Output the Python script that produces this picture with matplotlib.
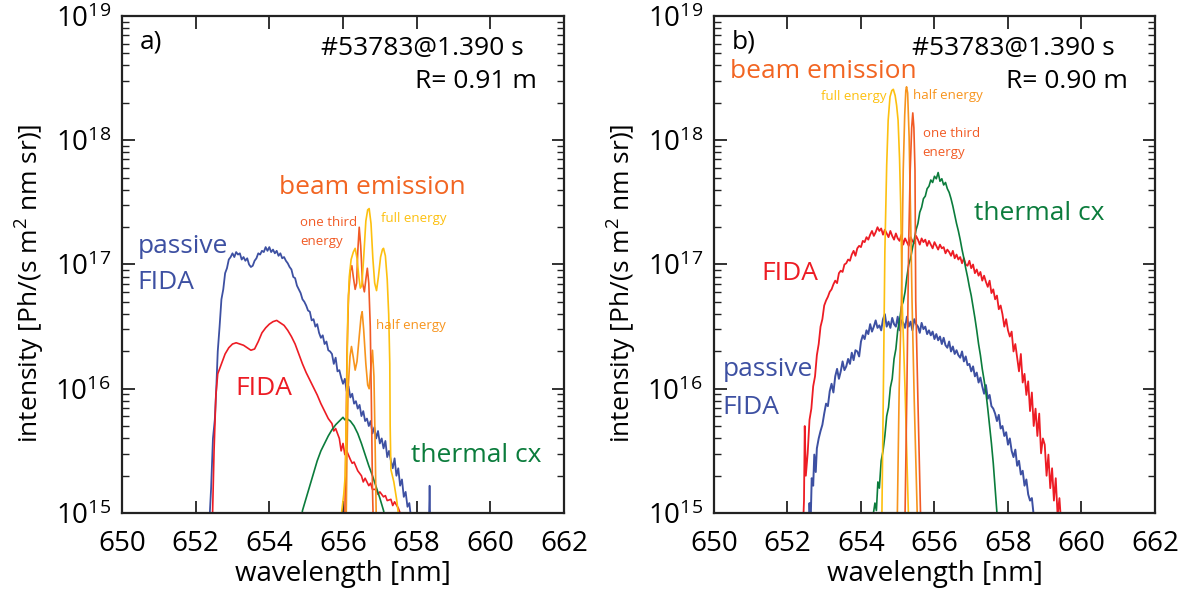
import numpy as np
import matplotlib
matplotlib.use("Agg")
import matplotlib.pyplot as plt
from matplotlib.ticker import LogLocator, FixedLocator, NullFormatter

plt.rcParams["font.family"] = ["Open Sans", "DejaVu Sans"]
plt.rcParams["mathtext.fontset"] = "custom"
plt.rcParams["mathtext.rm"] = "Open Sans"
plt.rcParams["mathtext.it"] = "Open Sans:italic"

# spectra as (wavelength [nm], log10 intensity)
# ---- panel a) R = 0.91 m
passive_a = [(652.35,14.8),(652.42,15.2),(652.47,15.6),(652.52,15.75),(652.56,16.0),(652.6,16.3),(652.65,16.5),
    (652.7,16.72),(652.75,16.8),(652.8,16.93),(652.85,16.97),(652.9,17.04),(652.95,17.06),(653.0,17.09),(653.05,17.06),
    (653.1,17.1),(653.15,17.08),(653.2,17.09),(653.25,17.04),(653.3,17.06),(653.35,17.03),(653.4,17.05),(653.45,17.0),
    (653.5,16.98),(653.55,16.99),(653.6,17.03),(653.65,17.05),(653.7,17.09),(653.75,17.08),(653.8,17.11),(653.85,17.1),
    (653.9,17.14),(653.95,17.11),(654.0,17.14),(654.05,17.1),(654.1,17.12),(654.15,17.09),(654.2,17.11),(654.25,17.07),
    (654.3,17.09),(654.35,17.05),(654.4,17.06),(654.45,17.03),(654.5,17.01),(654.55,16.98),(654.6,16.96),(654.65,16.9),
    (654.7,16.89),(654.75,16.83),(654.8,16.8),(654.85,16.77),(654.9,16.72),(654.95,16.7),(655.0,16.67),(655.05,16.63),
    (655.1,16.62),(655.15,16.55),(655.2,16.56),(655.25,16.5),(655.3,16.52),(655.35,16.45),(655.4,16.41),(655.45,16.43),
    (655.5,16.36),(655.55,16.38),(655.6,16.31),(655.65,16.3),(655.7,16.28),(655.75,16.2),(655.8,16.25),(655.85,16.14),
    (655.9,16.15),(655.95,16.09),(656.0,16.04),(656.05,16.08),(656.1,15.98),(656.15,16.02),(656.2,15.93),(656.25,15.96),
    (656.3,15.88),(656.35,15.9),(656.4,15.84),(656.45,15.87),(656.5,15.78),(656.55,15.82),(656.6,15.74),(656.65,15.76),
    (656.7,15.7),(656.75,15.74),(656.8,15.64),(656.85,15.69),(656.9,15.6),(656.95,15.66),(657.0,15.56),(657.05,15.6),
    (657.1,15.52),(657.15,15.58),(657.2,15.45),(657.25,15.5),(657.3,15.42),(657.35,15.36),(657.4,15.44),(657.45,15.3),
    (657.5,15.36),(657.55,15.22),(657.6,15.27),(657.65,15.13),(657.7,15.17),(657.75,15.05),(657.8,15.08),(657.85,14.95),
    (657.9,14.85)]
passive_a_spike = [(658.33,14.9),(658.35,15.22),(658.37,14.9)]
fida_a = [(652.4,14.7),(652.46,15.0),(652.5,15.5),(652.55,15.95),(652.6,16.12),(652.7,16.2),(652.8,16.28),(652.9,16.33),
    (653.0,16.36),(653.1,16.37),(653.2,16.36),(653.3,16.35),(653.4,16.33),(653.5,16.31),(653.6,16.32),(653.7,16.38),
    (653.8,16.45),(653.9,16.49),(654.0,16.52),(654.1,16.54),(654.2,16.55),(654.3,16.53),(654.4,16.51),(654.5,16.47),
    (654.6,16.42),(654.7,16.36),(654.8,16.28),(654.9,16.2),(655.0,16.13),(655.1,16.07),(655.2,16.01),(655.3,15.95),
    (655.4,15.88),(655.5,15.82),(655.6,15.76),(655.7,15.72),(655.75,15.66),(655.8,15.68),(655.9,15.6),(655.95,15.5),
    (656.0,15.56),(656.05,15.47),(656.1,15.5),(656.2,15.43),(656.25,15.4),(656.3,15.41),(656.4,15.34),(656.45,15.32),
    (656.5,15.3),(656.55,15.25),(656.6,15.28),(656.7,15.22),(656.75,15.24),(656.8,15.19),(656.9,15.19),(656.95,15.15),
    (657.0,15.17),(657.1,15.13),(657.15,15.14),(657.2,15.1),(657.3,15.11),(657.35,15.06),(657.4,15.09),(657.5,15.04),
    (657.55,15.0),(657.65,14.9)]
thermal_a = [(654.85,14.9),(654.9,15.02),(655.0,15.12),(655.1,15.22),(655.2,15.32),(655.3,15.42),(655.4,15.5),
    (655.5,15.56),(655.6,15.62),(655.7,15.67),(655.8,15.71),(655.9,15.74),(656.0,15.77),(656.05,15.75),(656.1,15.76),
    (656.2,15.74),(656.3,15.7),(656.4,15.64),(656.5,15.56),(656.6,15.47),(656.7,15.38),(656.8,15.3),(656.9,15.21),
    (657.0,15.12),(657.1,15.02),(657.15,14.95)]
full_a = [(655.9,14.8),(655.96,15.0),(656.02,15.15),(656.06,15.3),(656.1,15.9),(656.13,16.6),(656.17,16.9),(656.22,17.04),
    (656.28,17.1),(656.33,17.13),(656.38,17.05),(656.43,16.9),(656.47,16.81),(656.51,16.83),(656.56,17.05),(656.62,17.35),
    (656.67,17.44),(656.71,17.45),(656.76,17.33),(656.81,17.05),(656.86,16.85),(656.91,16.79),(656.96,16.9),(657.02,17.06),
    (657.07,17.12),(657.1,17.13),(657.15,17.07),(657.2,16.88),(657.24,16.6),(657.27,16.2),(657.28,15.7),(657.3,15.35),
    (657.38,15.25),(657.46,15.1),(657.52,14.95)]
third_a = [(656.04,14.8),(656.08,15.6),(656.11,16.3),(656.15,16.75),(656.2,16.95),(656.24,16.99),(656.28,16.9),
    (656.33,16.8),(656.37,16.85),(656.4,17.1),(656.44,17.3),(656.48,17.15),(656.53,16.85),(656.58,16.78),(656.62,16.88),
    (656.66,16.97),(656.7,16.85),(656.74,16.5),(656.77,15.9),(656.8,15.2),(656.83,14.8)]
half_a = [(656.08,14.8),(656.11,15.5),(656.14,16.0),(656.19,16.26),(656.23,16.34),(656.28,16.25),(656.33,16.15),
    (656.38,16.22),(656.44,16.42),(656.49,16.58),(656.52,16.62),(656.56,16.48),(656.62,16.2),(656.67,16.03),(656.71,16.0),
    (656.75,16.15),(656.8,16.31),(656.84,16.1),(656.87,15.59),(656.9,15.0),(656.93,14.8)]

# ---- panel b) R = 0.90 m
fida_b = [(652.4,14.7),(652.45,15.1),(652.47,15.7),(652.5,15.3),(652.55,15.48),(652.6,15.75),(652.65,15.84),
    (652.7,16.02),(652.75,16.1),(652.8,16.27),(652.85,16.36),(652.9,16.5),(652.95,16.56),(653.0,16.67),(653.05,16.71),
    (653.1,16.74),(653.15,16.78),(653.2,16.8),(653.25,16.84),(653.3,16.87),(653.35,16.85),(653.4,16.93),(653.45,16.95),
    (653.5,16.94),(653.55,17.0),(653.6,17.01),(653.65,17.04),(653.7,17.03),(653.75,17.08),(653.8,17.11),(653.85,17.07),
    (653.9,17.13),(653.95,17.15),(654.0,17.14),(654.05,17.19),(654.1,17.18),(654.15,17.22),(654.2,17.2),(654.25,17.24),
    (654.3,17.27),(654.35,17.23),(654.4,17.26),(654.45,17.3),(654.5,17.27),(654.55,17.29),(654.6,17.24),(654.65,17.28),
    (654.7,17.25),(654.75,17.22),(654.8,17.27),(654.85,17.23),(654.9,17.2),(654.95,17.25),(655.0,17.21),(655.05,17.19),
    (655.1,17.24),(655.15,17.16),(655.2,17.21),(655.25,17.18),(655.3,17.15),(655.35,17.22),(655.4,17.19),(655.45,17.17),
    (655.5,17.23),(655.55,17.2),(655.6,17.16),(655.65,17.21),(655.7,17.18),(655.75,17.2),(655.8,17.15),(655.85,17.19),
    (655.9,17.16),(655.95,17.13),(656.0,17.18),(656.05,17.15),(656.1,17.12),(656.15,17.16),(656.2,17.13),(656.25,17.14),
    (656.3,17.09),(656.35,17.12),(656.4,17.1),(656.45,17.07),(656.5,17.11),(656.55,17.05),(656.6,17.08),(656.65,17.04),
    (656.7,17.06),(656.75,17.01),(656.8,17.05),(656.85,17.0),(656.9,16.99),(656.95,17.03),(657.0,16.97),(657.05,17.0),
    (657.1,16.93),(657.15,16.96),(657.2,16.91),(657.25,16.94),(657.3,16.87),(657.35,16.91),(657.4,16.86),(657.45,16.82),
    (657.5,16.87),(657.55,16.77),(657.6,16.8),(657.65,16.72),(657.7,16.75),(657.75,16.64),(657.8,16.67),(657.85,16.6),
    (657.9,16.5),(657.95,16.56),(658.0,16.47),(658.05,16.42),(658.1,16.46),(658.15,16.3),(658.2,16.36),(658.25,16.25),
    (658.3,16.14),(658.35,16.28),(658.4,16.05),(658.45,16.12),(658.5,15.95),(658.55,16.06),(658.6,15.82),(658.65,15.97),
    (658.7,15.7),(658.75,15.84),(658.8,15.62),(658.85,15.8),(658.9,15.48),(658.95,15.6),(659.0,15.55),(659.05,15.3),
    (659.1,15.47),(659.15,15.2),(659.2,15.36),(659.25,15.1),(659.3,15.28),(659.35,14.98),(659.4,15.12),(659.45,14.9),
    (659.5,14.85)]
passive_b = [(652.55,14.7),(652.6,15.08),(652.63,14.92),(652.66,15.28),(652.7,15.22),(652.73,15.47),(652.77,15.33),
    (652.8,15.52),(652.85,15.6),(652.9,15.66),(652.95,15.71),(653.0,15.8),(653.05,15.88),(653.1,15.86),(653.15,15.98),
    (653.2,16.04),(653.25,15.97),(653.3,16.1),(653.35,16.16),(653.4,16.08),(653.45,16.14),(653.5,16.22),(653.55,16.15),
    (653.6,16.18),(653.65,16.24),(653.7,16.2),(653.75,16.29),(653.8,16.23),(653.85,16.31),(653.9,16.3),(653.95,16.26),
    (654.0,16.38),(654.05,16.43),(654.1,16.4),(654.15,16.47),(654.2,16.44),(654.25,16.52),(654.3,16.46),(654.35,16.5),
    (654.4,16.55),(654.45,16.49),(654.5,16.51),(654.55,16.47),(654.6,16.56),(654.65,16.6),(654.7,16.5),(654.75,16.54),
    (654.8,16.49),(654.85,16.57),(654.9,16.52),(654.95,16.5),(655.0,16.58),(655.05,16.47),(655.1,16.55),(655.15,16.53),
    (655.2,16.49),(655.25,16.58),(655.3,16.5),(655.35,16.54),(655.4,16.47),(655.45,16.56),(655.5,16.52),(655.55,16.5),
    (655.6,16.45),(655.65,16.53),(655.7,16.48),(655.75,16.5),(655.8,16.44),(655.85,16.47),(655.9,16.43),(655.95,16.46),
    (656.0,16.4),(656.05,16.44),(656.1,16.39),(656.15,16.42),(656.2,16.36),(656.25,16.41),(656.3,16.35),(656.35,16.33),
    (656.4,16.38),(656.45,16.3),(656.5,16.34),(656.55,16.28),(656.6,16.31),(656.65,16.27),(656.7,16.25),(656.75,16.3),
    (656.8,16.22),(656.85,16.26),(656.9,16.19),(656.95,16.2),(657.0,16.14),(657.05,16.18),(657.1,16.1),(657.15,16.13),
    (657.2,16.05),(657.25,16.09),(657.3,16.02),(657.35,15.96),(657.4,16.03),(657.45,15.92),(657.5,15.95),(657.55,15.86),
    (657.6,15.84),(657.65,15.8),(657.7,15.74),(657.75,15.79),(657.8,15.68),(657.85,15.7),(657.9,15.62),(657.95,15.65),
    (658.0,15.55),(658.05,15.6),(658.1,15.5),(658.15,15.45),(658.2,15.51),(658.25,15.38),(658.3,15.42),(658.35,15.31),
    (658.4,15.34),(658.45,15.22),(658.5,15.27),(658.55,15.15),(658.6,15.1),(658.65,15.12),(658.7,14.98),(658.75,14.85)]
thermal_b = [(654.3,14.8),(654.34,15.0),(654.38,15.08),(654.42,15.02),(654.46,15.25),(654.5,15.2),(654.55,15.42),
    (654.6,15.5),(654.65,15.62),(654.7,15.78),(654.75,15.85),(654.8,16.01),(654.85,16.08),(654.9,16.24),(654.95,16.32),
    (655.0,16.47),(655.05,16.55),(655.1,16.66),(655.15,16.7),(655.2,16.78),(655.25,16.9),(655.3,17.0),(655.35,17.05),
    (655.4,17.13),(655.45,17.2),(655.5,17.28),(655.55,17.33),(655.6,17.42),(655.65,17.46),(655.7,17.53),(655.75,17.55),
    (655.8,17.61),(655.85,17.63),(655.9,17.68),(655.95,17.66),(656.0,17.71),(656.05,17.69),(656.1,17.74),(656.15,17.67),
    (656.2,17.69),(656.25,17.64),(656.3,17.66),(656.35,17.61),(656.4,17.58),(656.45,17.53),(656.5,17.47),(656.55,17.4),
    (656.6,17.33),(656.65,17.27),(656.7,17.2),(656.75,17.12),(656.8,17.05),(656.85,16.97),(656.9,16.9),(656.95,16.82),
    (657.0,16.75),(657.05,16.66),(657.1,16.57),(657.15,16.47),(657.2,16.36),(657.25,16.27),(657.3,16.16),(657.35,16.07),
    (657.4,15.97),(657.45,15.84),(657.5,15.7),(657.55,15.56),(657.6,15.4),(657.65,15.2),(657.7,15.0),(657.75,14.8)]
full_b = [(654.52,14.7),(654.57,15.0),(654.61,16.0),(654.65,17.1),(654.7,17.8),(654.74,18.16),(654.79,18.35),
    (654.84,18.4),(654.88,18.41),(654.93,18.36),(654.97,18.28),(655.01,18.16),(655.05,17.85),(655.08,17.49),
    (655.12,16.71),(655.2,15.99),(655.29,15.0),(655.33,14.7)]
half_b = [(654.95,14.7),(654.99,15.0),(655.04,16.0),(655.1,16.71),(655.15,17.76),(655.19,18.2),(655.22,18.4),
    (655.24,18.43),(655.27,18.38),(655.31,18.03),(655.35,17.4),(655.39,16.7),(655.45,15.9),(655.53,15.0),(655.57,14.7)]
third_b = [(655.17,14.7),(655.2,15.0),(655.25,16.0),(655.3,17.2),(655.34,17.76),(655.38,18.1),(655.41,18.22),
    (655.44,18.1),(655.47,17.76),(655.49,16.71),(655.55,15.9),(655.62,15.0),(655.66,14.7)]

c_blue = "#3d50a2"
c_red = "#ed1c24"
c_green = "#0b7c3c"
c_full = "#fdc00f"
c_half = "#f7941d"
c_third = "#f15a24"
c_beam = "#f26522"


def draw(ax, data, color, lw=1.2):
    arr = np.array(data)
    ax.plot(arr[:, 0], 10 ** arr[:, 1], color=color, lw=lw, solid_joinstyle="round")


def style(ax):
    ax.set_yscale("log")
    ax.set_xlim(650, 662)
    ax.set_ylim(1e15, 1e19)
    ax.xaxis.set_major_locator(FixedLocator([650, 652, 654, 656, 658, 660, 662]))
    ax.yaxis.set_major_locator(LogLocator(base=10, numticks=10))
    ax.yaxis.set_minor_locator(LogLocator(base=10, subs=np.arange(2, 10), numticks=20))
    ax.yaxis.set_minor_formatter(NullFormatter())
    ax.tick_params(which="both", direction="in", top=True, right=True, color="#222222")
    ax.tick_params(which="major", length=9, width=1.3, labelsize=20)
    ax.tick_params(axis="x", which="major", pad=12)
    ax.tick_params(axis="y", which="major", pad=8)
    ax.tick_params(which="minor", length=5, width=1.0)
    for s in ax.spines.values():
        s.set_linewidth(1.6)
        s.set_color("#222222")


fig = plt.figure(figsize=(11.84, 5.9), dpi=100)
ax_a = fig.add_axes([0.103, 0.1305, 0.3734, 0.8424])
ax_b = fig.add_axes([0.603, 0.1305, 0.3725, 0.8424])

# panel a
draw(ax_a, passive_a, c_blue, 1.3)
draw(ax_a, passive_a_spike, c_blue)
draw(ax_a, fida_a, c_red)
draw(ax_a, thermal_a, c_green)
draw(ax_a, half_a, c_half)
draw(ax_a, third_a, c_third)
draw(ax_a, full_a, c_full)
style(ax_a)

# panel b
draw(ax_b, fida_b, c_red, 1.3)
draw(ax_b, passive_b, c_blue, 1.4)
draw(ax_b, thermal_b, c_green)
draw(ax_b, full_b, c_full)
draw(ax_b, half_b, c_half)
draw(ax_b, third_b, c_third)
style(ax_b)

big = 19
small = 9.5
for ax, tag, rad in [(ax_a, "a)", "R= 0.91 m"), (ax_b, "b)", "R= 0.90 m")]:
    ax.text(650.48, 10 ** 18.74, tag, fontsize=big, color="black")
    ax.text(660.9, 10 ** 18.686, "#53783@1.390 s", fontsize=big, ha="right")
    ax.text(661.27, 10 ** 18.42, rad, fontsize=big, ha="right")

ax_a.text(654.26, 10 ** 17.565, "beam emission", fontsize=big, color=c_beam)
ax_a.text(654.83, 10 ** 17.31, "one third", fontsize=small, color=c_third)
ax_a.text(654.83, 10 ** 17.157, "energy", fontsize=small, color=c_third)
ax_a.text(657.02, 10 ** 17.34, "full energy", fontsize=small, color=c_full)
ax_a.text(656.9, 10 ** 16.48, "half energy", fontsize=small, color=c_half)
ax_a.text(650.42, 10 ** 17.09, "passive", fontsize=big, color=c_blue)
ax_a.text(650.42, 10 ** 16.80, "FIDA", fontsize=big, color=c_blue)
ax_a.text(653.07, 10 ** 15.95, "FIDA", fontsize=big, color=c_red)
ax_a.text(657.84, 10 ** 15.41, "thermal cx", fontsize=big, color=c_green)

ax_b.text(650.45, 10 ** 18.50, "beam emission", fontsize=big, color=c_beam)
ax_b.text(654.7, 10 ** 18.32, "full energy", fontsize=small, color=c_full, ha="right")
ax_b.text(655.42, 10 ** 18.33, "half energy", fontsize=small, color=c_half)
ax_b.text(655.68, 10 ** 18.03, "one third", fontsize=small, color=c_third)
ax_b.text(655.68, 10 ** 17.87, "energy", fontsize=small, color=c_third)
ax_b.text(657.07, 10 ** 17.36, "thermal cx", fontsize=big, color=c_green)
ax_b.text(651.28, 10 ** 16.875, "FIDA", fontsize=big, color=c_red)
ax_b.text(650.24, 10 ** 16.10, "passive", fontsize=big, color=c_blue)
ax_b.text(650.24, 10 ** 15.80, "FIDA", fontsize=big, color=c_blue)

ylab = "intensity [Ph/(s m$^2$ nm sr)]"
fig.text(30 / 1184, 1 - 283 / 590, ylab, rotation=90, ha="center", va="center", fontsize=19)
fig.text(622 / 1184, 1 - 283 / 590, ylab, rotation=90, ha="center", va="center", fontsize=19)
fig.text(343 / 1184, 1 - 574 / 590, "wavelength [nm]", ha="center", va="center", fontsize=20)
fig.text(935 / 1184, 1 - 574 / 590, "wavelength [nm]", ha="center", va="center", fontsize=20)

fig.savefig("out.png", dpi=100)
